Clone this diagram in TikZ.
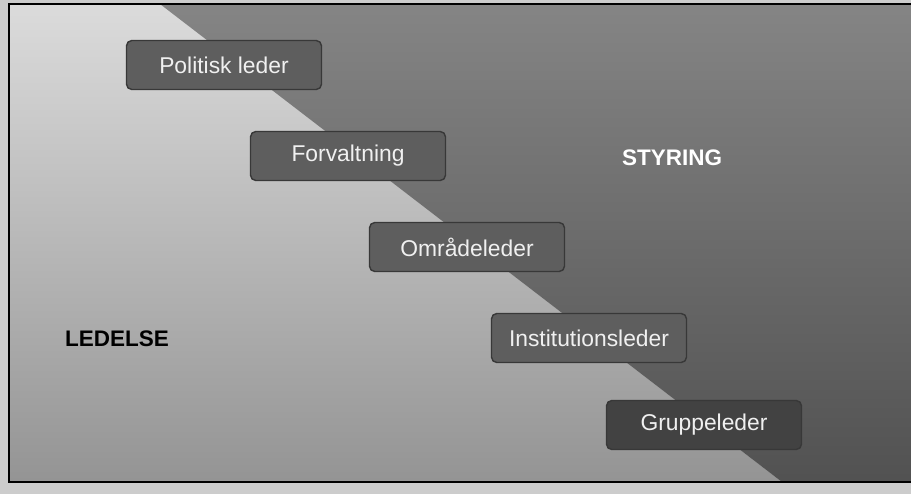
\documentclass[tikz,border=0pt]{standalone}
\usepackage{fontspec}
\setmainfont{Liberation Sans}
\usetikzlibrary{positioning}

\begin{document}
\begin{tikzpicture}[x=0.02cm, y=-0.02cm,
            level/.style={draw=black!78, fill=black!63, rounded corners=3pt, line width=0.8pt, text=black!6, minimum width=3.9cm, minimum height=0.98cm, inner sep=1pt, font=\fontsize{13}{15}\selectfont},
            side/.style={inner sep=1pt, font=\fontsize{12.8}{15}\selectfont\bfseries}]
            \useasboundingbox (0,0) rectangle (911,494);
            \fill[black!20] (0,0) rectangle (911,494);

            % ledelse side and styring side
            \shade[top color=black!14, bottom color=black!42] (9,4) -- (160,4) -- (782,482) -- (9,482) -- cycle;
            \shade[top color=black!48, bottom color=black!68] (160,4) -- (911,4) -- (911,482) -- (782,482) -- cycle;
            \draw[line width=1.2pt] (911,4) -- (9,4) -- (9,482) -- (911,482);

            \node[level] (politisk) at (224,65) {Politisk leder};
            \node[level] (forvaltning) at (348,156) {Forvaltning};
            \node[level] (omraade) at (467,247) {Områdeleder};
            \node[level] (institution) at (589,338) {Institutionsleder};
            \node[level, fill=black!74] (gruppe) at (704,425) {Gruppeleder};

            \node[side, text=white] (styring) at (672,158) {STYRING};
            \node[side, text=black] (ledelse) at (117,339) {LEDELSE};
        \end{tikzpicture}
\end{document}
